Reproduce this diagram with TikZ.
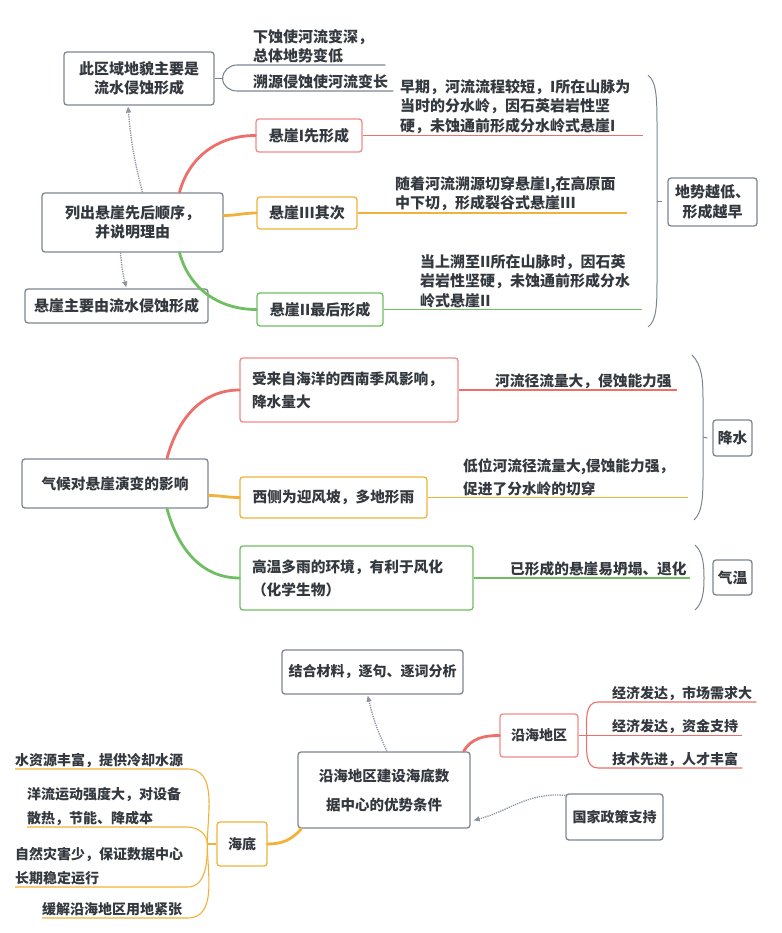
\documentclass[tikz,border=0pt]{standalone}
\usepackage{fontspec}
\usepackage{xcolor}
\usepackage{tikz}
\usetikzlibrary{arrows.meta,positioning}
\newfontfamily\cjk{Noto Sans CJK SC}
\definecolor{ink}{HTML}{34393f}
\definecolor{slate}{HTML}{7d8593}
\definecolor{coral}{HTML}{ec6f6a}
\definecolor{amber}{HTML}{f2b13b}
\definecolor{grass}{HTML}{6fbf62}
\definecolor{dots}{HTML}{8d95a3}

\begin{document}
\begin{tikzpicture}[x=1pt, y=-1pt,
  box/.style={rectangle, rounded corners=3pt, draw=slate, fill=white, line width=1.3pt,
              align=center, inner sep=2pt, text=ink},
  rbox/.style={box, draw=coral!80},
  obox/.style={box, draw=amber},
  gbox/.style={box, draw=grass},
  txt/.style={anchor=south west, inner xsep=0pt, inner ysep=1.5pt, align=left, text=ink},
  br/.style={line width=2.8pt, line cap=round},
  ul/.style={line width=1.1pt},
  dar/.style={-{Triangle[length=6pt,width=5pt]}, densely dotted, line width=1.3pt, color=dots, shorten >=1pt},
  brc/.style={line width=1pt, color=slate},
]
  \useasboundingbox (0,0) rectangle (781,933);

  % --- cliffs: order of formation
  \begin{scope}[font=\cjk\bfseries\fontsize{15}{19.5}\selectfont]
  \node[box, minimum width=150pt, minimum height=53pt](area) at (139,78.5){此区域地貌主要是\\流水侵蚀形成};
  \node[box, minimum width=181pt, minimum height=59pt](order) at (132.5,222.5){列出悬崖先后顺序，\\并说明理由};
  \node[box, minimum width=183pt, minimum height=34pt](fluv) at (116.5,306){悬崖主要由流水侵蚀形成};
  \node[rbox, minimum width=106pt, minimum height=33pt](c1) at (309,135.5){悬崖I先形成};
  \node[obox, minimum width=100pt, minimum height=32pt](c3) at (307,213){悬崖III其次};
  \node[gbox, minimum width=126pt, minimum height=33pt](c2) at (320,309.5){悬崖II最后形成};
  \node[box, minimum width=89pt, minimum height=48pt](rule) at (712.5,202){地势越低、\\形成越早};

  \node[txt, text width=132pt](a1) at (253,65){下蚀使河流变深，\\总体地势变低};
  \node[txt, text width=140pt](a2) at (253,91){溯源侵蚀使河流变长};
  \node[txt, text width=243pt](t1) at (400,135.5){早期，河流流程较短，I所在山脉为\\当时的分水岭，因石英岩岩性坚\\硬，未蚀通前形成分水岭式悬崖I};
  \node[txt, text width=232pt](t3) at (395,213){随着河流溯源切穿悬崖I,在高原面\\中下切，形成裂谷式悬崖III};
  \node[txt, text width=222pt](t2) at (420,309.5){当上溯至II所在山脉时，因石英\\岩岩性坚硬，未蚀通前形成分水\\岭式悬崖II};

  \coordinate (aj) at ([xshift=8pt]area.east);
  \draw[ul, slate](area.east)--(aj);
  \draw[ul, slate](aj) to[out=90,in=180] ([xshift=-16pt]a1.south west)--(a1.south east);
  \draw[ul, slate](aj) to[out=-90,in=180] ([xshift=-16pt]a2.south west)--(a2.south east);

  \draw[br, coral]([xshift=47pt]order.north) to[out=75,in=180] (c1.west);
  \draw[br, amber]([yshift=7pt]order.east) to[out=0,in=180] (c3.west);
  \draw[br, grass]([xshift=47pt]order.south) to[out=-75,in=180] (c2.west);
  \draw[ul, coral](c1.east)--(c1.east -| t1.south east);
  \draw[ul, amber](c3.east)--(c3.east -| t3.south east);
  \draw[ul, grass](c2.east)--(c2.east -| t2.south east);

  \draw[dar]([xshift=10pt]order.north) to[bend left=5] ([xshift=-11pt]area.south);
  \draw[dar]([xshift=-12pt]order.south) to[bend right=5] ([xshift=10pt]fluv.north);

  % brace to the summary box
  \draw[brc](648,75) .. controls (657,82) and (657,100) .. (657,130)--(657,275)
            .. controls (657,305) and (657,320) .. (648,327);
  \draw[brc](657,202)--([xshift=-5pt]rule.west);
  \end{scope}

  % --- climate
  \begin{scope}[font=\cjk\bfseries\fontsize{14.7}{23}\selectfont]
  \node[box, minimum width=186pt, minimum height=49pt](clim) at (115,483.5){气候对悬崖演变的影响};
  \node[rbox, align=left, text width=194pt, inner xsep=12pt, minimum height=64pt](mons) at (349,390){受来自海洋的西南季风影响，\\降水量大};
  \node[obox, minimum width=187pt, minimum height=41pt](slope) at (333.5,497.5){西侧为迎风坡，多地形雨};
  \node[gbox, align=left, text width=209pt, inner xsep=12pt, minimum height=64pt](warm) at (356.5,578){高温多雨的环境，有利于风化\\（化学生物）};
  \node[box, minimum width=39pt, minimum height=36pt](rain) at (732.5,438){降水};
  \node[box, minimum width=39pt, minimum height=35pt](heat) at (732.5,577.5){气温};

  \node[txt, text width=182pt](m1) at (495,390){河流径流量大，侵蚀能力强};
  \node[txt, text width=225pt](m2) at (463,497.5){低位河流径流量大,侵蚀能力强，\\促进了分水岭的切穿};
  \node[txt, text width=180pt](m3) at (510,578){已形成的悬崖易坍塌、退化};

  \draw[br, coral]([xshift=52pt]clim.north) to[out=75,in=180] (mons.west);
  \draw[br, amber]([yshift=-12pt]clim.east) to[out=0,in=180] (slope.west);
  \draw[br, grass]([xshift=52pt]clim.south) to[out=-75,in=180] (warm.west);
  \draw[ul, coral](mons.east)--(mons.east -| m1.south east);
  \draw[ul, amber](slope.east)--(slope.east -| m2.south east);
  \draw[ul, grass](warm.east)--(warm.east -| m3.south east);

  % braces
  \draw[brc](692,355) .. controls (702,365) and (703,380) .. (703,400)--(703,475)
            .. controls (703,500) and (702,512) .. (694,520);
  \draw[brc](703,437)--([xshift=-5pt]rain.west);
  \draw[brc](695,545) .. controls (703,552) and (704,565) .. (704,578)
            .. controls (704,591) and (703,603) .. (695,610);
  \end{scope}

  % --- undersea data centre
  \begin{scope}[font=\cjk\bfseries\fontsize{14}{24}\selectfont]
  \node[box, minimum width=181pt, minimum height=44pt](tip) at (372.5,672){结合材料，逐句、逐词分析};
  \node[box, minimum width=172pt, minimum height=76pt, font=\cjk\bfseries\fontsize{14.5}{29}\selectfont](core) at (384,790){沿海地区建设海底数\\据中心的优势条件};
  \node[rbox, minimum width=78pt, minimum height=43pt](coast) at (539,735.5){沿海地区};
  \node[box, minimum width=97pt, minimum height=46pt](policy) at (614.5,817){国家政策支持};
  \node[obox, minimum width=50pt, minimum height=44pt](sea) at (242,844){海底};

  \node[txt, text width=144pt](k1) at (612,702){经济发达，市场需求大};
  \node[txt, text width=130pt](k2) at (612,735.5){经济发达，资金支持};
  \node[txt, text width=130pt](k3) at (612,768){技术先进，人才丰富};

  \node[txt, text width=172pt](s1) at (15,769){水资源丰富，提供冷却水源};
  \node[txt, text width=160pt](s2) at (27,827){洋流运动强度大，对设备\\散热，节能、降成本};
  \node[txt, text width=172pt](s3) at (15,887){自然灾害少，保证数据中心\\长期稳定运行};
  \node[txt, text width=145pt](s4) at (42,918){缓解沿海地区用地紧张};

  \draw[br, coral]([xshift=-7pt]core.north east) to[out=60,in=180] (coast.west);
  \draw[br, amber]([xshift=4pt]core.south west) to[out=-130,in=0] (sea.east);

  \coordinate (cj) at ([xshift=8pt]coast.east);
  \draw[ul, coral](coast.east)--(k2.south east);
  \draw[ul, coral](cj) to[out=90,in=180] ([xshift=-14pt]k1.south west)--(k1.south east);
  \draw[ul, coral](cj) to[out=-90,in=180] ([xshift=-14pt]k3.south west)--(k3.south east);

  \coordinate (sj) at ([xshift=-9pt]sea.west);
  \draw[ul, amber](sj)--(sea.west);
  \draw[ul, amber](s1.south west)--(s1.south east) to[out=0,in=90] (sj);
  \draw[ul, amber](s2.south west)--(s2.south east) to[out=0,in=90] (sj);
  \draw[ul, amber](s3.south west)--(s3.south east) to[out=0,in=-90] (sj);
  \draw[ul, amber](s4.south west)--(s4.south east) to[out=0,in=-90] (sj);

  \draw[dar]([xshift=3pt]core.north) to[bend left=6] ([xshift=-5pt]tip.south);
  \draw[dar]([yshift=-2pt]policy.north west) to[out=175,in=15] ([shift={(2pt,8pt)}]core.south east);
  \end{scope}
\end{tikzpicture}
\end{document}
